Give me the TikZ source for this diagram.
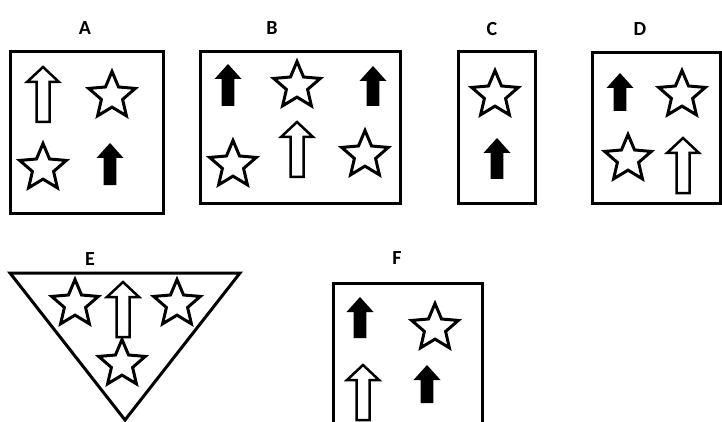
\documentclass[tikz,border=0pt]{standalone}
\usepackage{fontspec}
\setmainfont{Carlito}
\usetikzlibrary{shapes.geometric}
\tikzset{
  panel/.style={line width=3pt},
  lbl/.style={font=\fontsize{20}{20}\selectfont\bfseries,inner sep=0pt},
  staricon/.style={draw,line width=3pt,star,star points=5,star point ratio=2.2,
    minimum size=49pt,inner sep=0pt,outer sep=0pt},
  pics/hollowup/.style={code={
    \draw[line width=2.5pt,line join=miter,fill=white] (0,0) -- (16,15) -- (6.5,15) -- (6.5,#1)
      -- (-6.5,#1) -- (-6.5,15) -- (-16,15) -- cycle;}},
  pics/solidup/.style={code={
    \fill (0,0) -- (13.5,15) -- (6.3,15) -- (6.3,#1) -- (-6.3,#1) -- (-6.3,15) -- (-13.5,15) -- cycle;}}
}
\begin{document}
\begin{tikzpicture}[x=1pt,y=-1pt]
\useasboundingbox (0,0) rectangle (722,422);
\clip (0,0) rectangle (722,422);

\node[lbl] (labA) at (85,28) {A};
\draw[panel] (10,52) rectangle (163,213);
\pic at (43,67) {hollowup=55};
\node[staricon] (a1) at (112,96) {};
\node[staricon] (a2) at (43,168) {};
\pic at (110,143) {solidup=42};

\node[lbl] (labB) at (272,28) {B};
\draw[panel] (200,52) rectangle (400,203);
\pic at (228,64) {solidup=42};
\node[staricon] (b1) at (297,86) {};
\pic at (373,66) {solidup=40};
\node[staricon] (b2) at (233,165) {};
\pic at (297,122) {hollowup=55};
\node[staricon] (b3) at (365,155) {};

\node[lbl] (labC) at (492,29) {C};
\draw[panel] (458,52) rectangle (535,203);
\node[staricon] (c1) at (495,95) {};
\pic at (497,138) {solidup=41};

\node[lbl] (labD) at (640,29) {D};
\draw[panel] (592,53) rectangle (720,203);
\pic at (620,73) {solidup=38};
\node[staricon] (d1) at (682,95) {};
\node[staricon] (d2) at (628,159) {};
\pic at (683,138) {hollowup=55};

\node[lbl] (labE) at (90,259) {E};
\draw[panel,line join=miter] (10,273) -- (240,273) -- (125,420) -- cycle;
\node[staricon] (e1) at (75,304) {};
\node[staricon] (e2) at (177,304) {};
\node[staricon] (e3) at (122,364) {};
\pic at (123,282) {hollowup=55};

\node[lbl] (labF) at (397,258) {F};
\draw[panel] (333,283) rectangle (482,440);
\pic at (360,297) {solidup=41};
\node[staricon] (f1) at (435,328) {};
\pic at (363,365) {hollowup=55};
\pic at (427,365) {solidup=38};
\end{tikzpicture}
\end{document}
